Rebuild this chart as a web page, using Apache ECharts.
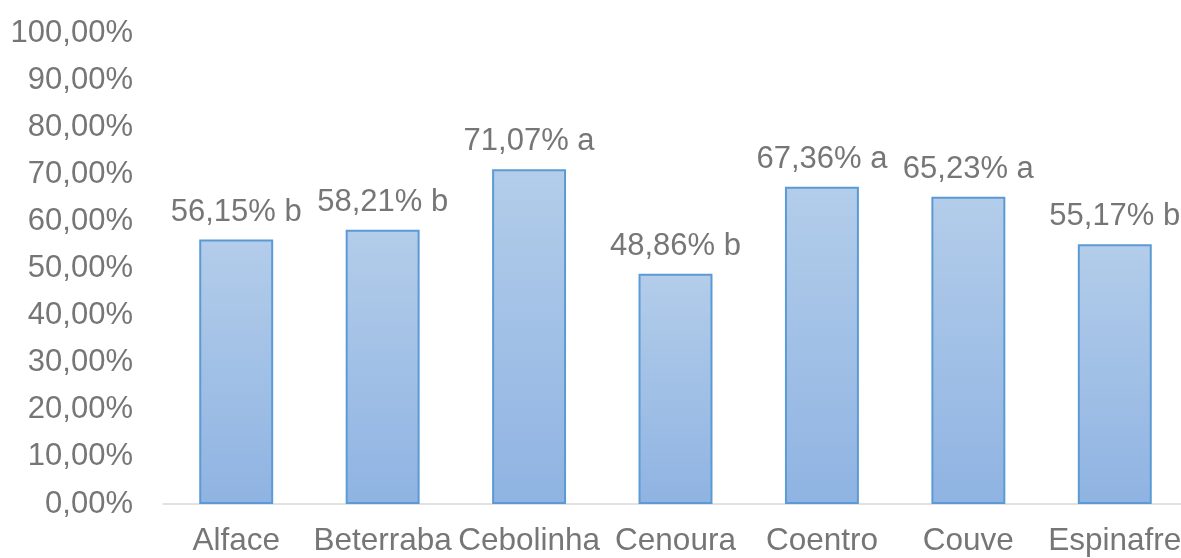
<!DOCTYPE html>
<html>
<head>
<meta charset="utf-8">
<script src="https://cdn.jsdelivr.net/npm/echarts@6/dist/echarts.min.js"></script>
<style>
	html, body { margin: 0; padding: 0; background: #fff; }
	#chart { width: 1181px; height: 558px; }
</style>
</head>
<body>
<div id="chart"></div>
<script>
	// dados
	var categorias = ['Alface', 'Beterraba', 'Cebolinha', 'Cenoura', 'Coentro', 'Couve', 'Espinafre'];
	var valores = [56.15, 58.21, 71.07, 48.86, 67.36, 65.23, 55.17];
	var letras = ['b', 'b', 'a', 'b', 'a', 'a', 'b'];

	function pct(v) {
		return v.toFixed(2).replace('.', ',') + '%';
	}

	var chart = echarts.init(document.getElementById('chart'));
	chart.setOption({
		animation: false,
		textStyle: { fontFamily: 'Liberation Sans, Arial, sans-serif' },
		grid: { left: 163, right: -7, top: 33, bottom: 54, outerBoundsMode: 'none', containLabel: false },
		xAxis: {
			type: 'category',
			data: categorias,
			axisTick: { show: false },
			axisLine: { show: true, lineStyle: { color: '#d9d9d9', width: 1.5 } },
			axisLabel: { color: '#767676', fontSize: 31.5, interval: 0, margin: 21 }
		},
		yAxis: {
			type: 'value',
			min: 0,
			max: 100,
			interval: 10,
			splitLine: { show: false },
			axisLine: { show: false },
			axisTick: { show: false },
			axisLabel: {
				color: '#767676',
				fontSize: 31,
				margin: 30,
				formatter: function (v) { return pct(v); }
			}
		},
		series: [{
			type: 'bar',
			barWidth: '50.5%',
			data: valores,
			itemStyle: {
				borderColor: '#5b9bd5',
				borderWidth: 2,
				color: new echarts.graphic.LinearGradient(0, 0, 0, 1, [
					{ offset: 0, color: '#b3cdea' },
					{ offset: 1, color: '#8fb3e2' }
				])
			},
			label: {
				show: true,
				position: 'top',
				distance: 12,
				color: '#767676',
				fontSize: 31,
				formatter: function (p) {
					return pct(p.value) + ' ' + letras[p.dataIndex];
				}
			}
		}]
	});
</script>
</body>
</html>
